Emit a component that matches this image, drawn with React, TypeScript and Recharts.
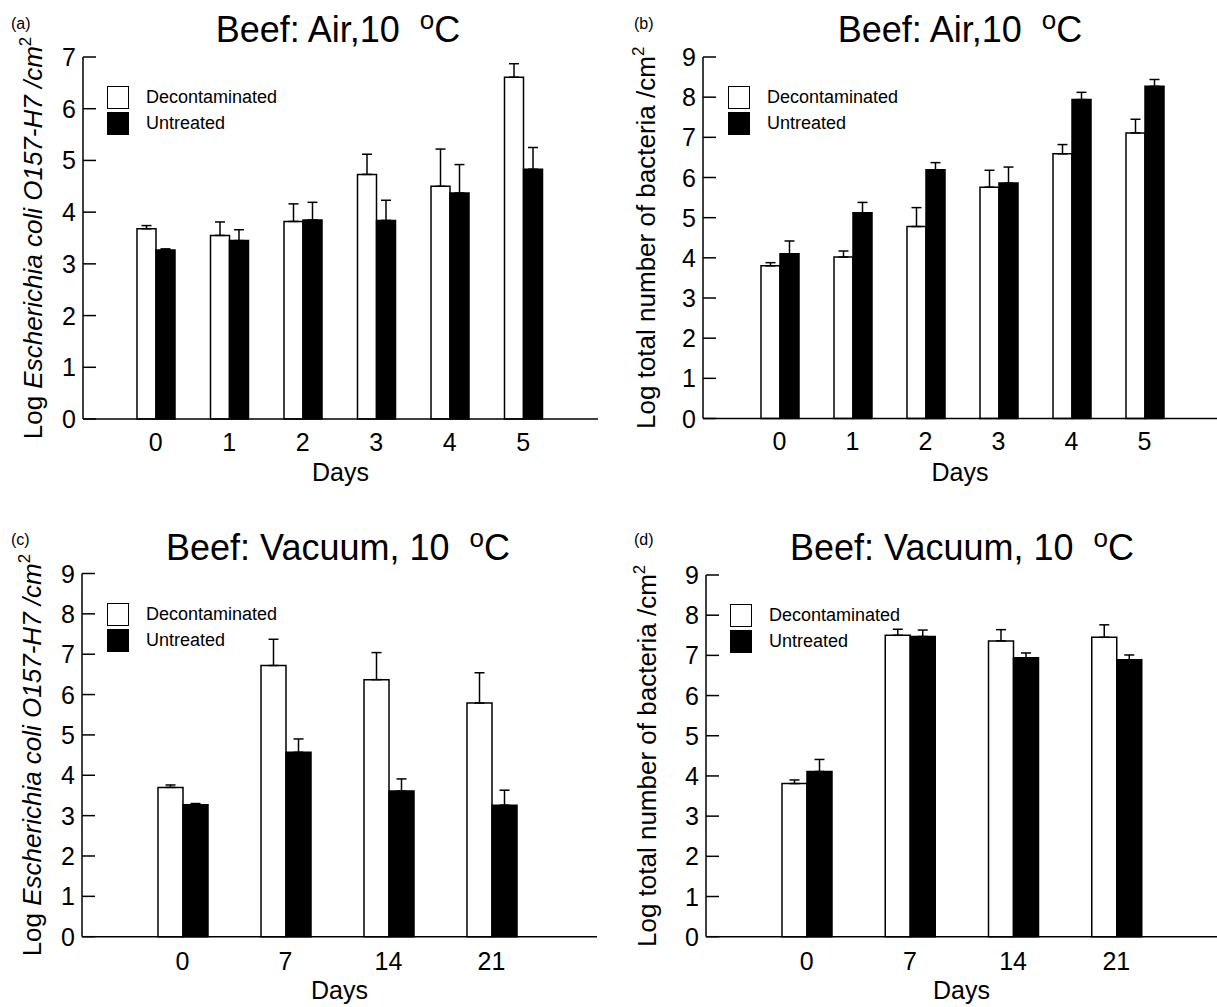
import React from "react";
import { BarChart, Bar, XAxis, YAxis, ErrorBar, Legend } from "recharts";

// days
const airDays = ["0", "1", "2", "3", "4", "5"];
const vacDays = ["0", "7", "14", "21"];

// y ticks
const ticks7 = [0, 1, 2, 3, 4, 5, 6, 7];
const ticks9 = [0, 1, 2, 3, 4, 5, 6, 7, 8, 9];

// (a) air, E. coli
const airEcoliDecon = [3.68, 3.55, 3.82, 4.73, 4.5, 6.61];
const airEcoliDeconErr = [0.06, 0.26, 0.34, 0.39, 0.72, 0.26];
const airEcoliUntr = [3.27, 3.45, 3.85, 3.84, 4.37, 4.83];
const airEcoliUntrErr = [0.02, 0.21, 0.34, 0.39, 0.55, 0.42];

// (b) air, total bacteria
const airTotalDecon = [3.8, 4.02, 4.78, 5.76, 6.59, 7.11];
const airTotalDeconErr = [0.08, 0.15, 0.47, 0.42, 0.23, 0.34];
const airTotalUntr = [4.1, 5.12, 6.19, 5.86, 7.94, 8.27];
const airTotalUntrErr = [0.32, 0.26, 0.18, 0.4, 0.18, 0.17];

// (c) vacuum, E. coli
const vacEcoliDecon = [3.7, 6.72, 6.37, 5.79];
const vacEcoliDeconErr = [0.06, 0.65, 0.67, 0.75];
const vacEcoliUntr = [3.27, 4.57, 3.61, 3.26];
const vacEcoliUntrErr = [0.03, 0.33, 0.3, 0.37];

// (d) vacuum, total bacteria
const vacTotalDecon = [3.81, 7.5, 7.36, 7.45];
const vacTotalDeconErr = [0.09, 0.15, 0.28, 0.31];
const vacTotalUntr = [4.11, 7.47, 6.94, 6.89];
const vacTotalUntrErr = [0.3, 0.16, 0.12, 0.12];

const FONT = '"Liberation Sans", Arial, Helvetica, sans-serif';

const YLabel = ({ x, y, ecoli }: any) => (
  <text
    x={x}
    y={y}
    transform={`rotate(-90 ${x} ${y})`}
    textAnchor="middle"
    fontSize={26}
    fontFamily={FONT}
    fill="#000"
  >
    {ecoli ? (
      <>
        {"Log "}
        <tspan fontStyle="italic">Escherichia coli O157-H7 /cm</tspan>
      </>
    ) : (
      "Log total number of bacteria /cm"
    )}
    <tspan dy={-11} fontSize={17}>
      2
    </tspan>
  </text>
);

const DaysLabel = ({ viewBox }: any) => (
  <text
    x={viewBox.x + viewBox.width / 2}
    y={viewBox.y + 62}
    textAnchor="middle"
    fontSize={25}
    fontFamily={FONT}
    fill="#000"
  >
    Days
  </text>
);

const YTick = ({ x, y, payload }: any) => (
  <g>
    <line x1={x + 7} x2={x + 20} y1={y} y2={y} stroke="#000" strokeWidth={1.5} />
    <text x={x} y={y} dy="0.36em" textAnchor="end" fontSize={25} fontFamily={FONT} fill="#000">
      {payload.value}
    </text>
  </g>
);

const LegendBox = ({ payload }: any) => (
  <div style={{ fontFamily: FONT, fontSize: 18, color: "#000" }}>
    {(payload || []).map((p: any, i: number) => (
      <div key={i} style={{ display: "flex", alignItems: "center", height: 26 }}>
        <div
          style={{
            width: 20,
            height: 21,
            background: p.color,
            border: "1.5px solid #000",
            marginRight: 17,
          }}
        />
        <span>{p.value}</span>
      </div>
    ))}
  </div>
);

type Cfg = {
  tag: string;
  title: string;
  ecoli: boolean;
  days: string[];
  decon: number[];
  deconErr: number[];
  untr: number[];
  untrErr: number[];
  ticks: number[];
  left: number;
  top: number;
  w: number;
  h: number;
  plotLeft: number;
  plotRight: number;
  plotTop: number;
  plotBottom: number;
  padL: number;
  padR: number;
  barSize: number;
  tickMargin: number;
  legendLeft: number;
  legendTop: number;
  titleX: number;
  titleY: number;
  tagX: number;
  tagY: number;
  labelX: number;
  labelY: number;
};

function Panel({ c }: { c: Cfg }) {
  const rows = c.days.map((d, i) => ({
    day: d,
    decon: c.decon[i],
    deconErr: [0, c.deconErr[i]],
    untr: c.untr[i],
    untrErr: [0, c.untrErr[i]],
  }));
  const yMax = c.ticks[c.ticks.length - 1];
  return (
    <div style={{ position: "absolute", left: c.left, top: c.top, width: c.w, height: c.h }}>
      <BarChart
        width={c.w}
        height={c.h}
        data={rows}
        barGap={0}
        barSize={c.barSize}
        margin={{ top: c.plotTop, right: c.w - c.plotRight, left: 0, bottom: 0 }}
      >
        <XAxis
          dataKey="day"
          height={c.h - c.plotBottom}
          padding={{ left: c.padL, right: c.padR }}
          tickLine={false}
          tickSize={0}
          tickMargin={c.tickMargin}
          axisLine={{ stroke: "#000", strokeWidth: 1.5 }}
          tick={{ fill: "#000", fontSize: 25, fontFamily: FONT }}
          label={<DaysLabel />}
        />
        <YAxis
          width={c.plotLeft}
          domain={[0, yMax]}
          ticks={c.ticks}
          interval={0}
          tickLine={false}
          tickSize={0}
          tickMargin={7}
          axisLine={{ stroke: "#000", strokeWidth: 1.5 }}
          tick={<YTick />}
          label={<YLabel x={c.labelX} y={c.labelY} ecoli={c.ecoli} />}
        />
        <Legend
          layout="vertical"
          align="center"
          verticalAlign="middle"
          content={<LegendBox />}
          wrapperStyle={{ position: "absolute", left: c.legendLeft, top: c.legendTop, width: "auto", height: "auto" }}
        />
        <Bar dataKey="decon" name="Decontaminated" fill="#fff" stroke="#000" strokeWidth={1.5} isAnimationActive={false}>
          <ErrorBar dataKey="deconErr" direction="y" width={5} stroke="#000" strokeWidth={1.5} />
        </Bar>
        <Bar dataKey="untr" name="Untreated" fill="#000" stroke="#000" strokeWidth={1.5} isAnimationActive={false}>
          <ErrorBar dataKey="untrErr" direction="y" width={5} stroke="#000" strokeWidth={1.5} />
        </Bar>
      </BarChart>
      <svg
        width={c.w}
        height={c.h}
        style={{ position: "absolute", left: 0, top: 0, pointerEvents: "none" }}
      >
        <text x={c.tagX} y={c.tagY} fontSize={16} fontFamily={FONT} fill="#000">
          {c.tag}
        </text>
        <text x={c.titleX} y={c.titleY} textAnchor="middle" fontSize={36} fontFamily={FONT} fill="#000">
          {c.title + "\u00a0\u00a0"}
          <tspan dy={-13} fontSize={26}>
            o
          </tspan>
          <tspan dy={13}>C</tspan>
        </text>
      </svg>
    </div>
  );
}

const panels: Cfg[] = [
  {
    tag: "(a)", title: "Beef: Air,10", ecoli: true, days: airDays,
    decon: airEcoliDecon, deconErr: airEcoliDeconErr, untr: airEcoliUntr, untrErr: airEcoliUntrErr,
    ticks: ticks7, left: 0, top: 0, w: 607, h: 490,
    plotLeft: 83, plotRight: 598, plotTop: 57, plotBottom: 419, padL: 36, padR: 38, barSize: 19,
    tickMargin: 14, legendLeft: 107, legendTop: 84, titleX: 338, titleY: 42, tagX: 11, tagY: 29,
    labelX: 35, labelY: 250,
  },
  {
    tag: "(b)", title: "Beef: Air,10", ecoli: false, days: airDays,
    decon: airTotalDecon, deconErr: airTotalDeconErr, untr: airTotalUntr, untrErr: airTotalUntrErr,
    ticks: ticks9, left: 607, top: 0, w: 610, h: 490,
    plotLeft: 96, plotRight: 610, plotTop: 57, plotBottom: 418.5, padL: 40, padR: 36, barSize: 19,
    tickMargin: 14, legendLeft: 121, legendTop: 84, titleX: 353, titleY: 42, tagX: 27, tagY: 29,
    labelX: 55, labelY: 240,
  },
  {
    tag: "(c)", title: "Beef: Vacuum, 10", ecoli: true, days: vacDays,
    decon: vacEcoliDecon, deconErr: vacEcoliDeconErr, untr: vacEcoliUntr, untrErr: vacEcoliUntrErr,
    ticks: ticks9, left: 0, top: 520, w: 607, h: 487,
    plotLeft: 82, plotRight: 597, plotTop: 53.5, plotBottom: 416.7, padL: 49, padR: 54, barSize: 25,
    tickMargin: 16, legendLeft: 107, legendTop: 81, titleX: 338, titleY: 40, tagX: 11, tagY: 25,
    labelX: 35, labelY: 250,
  },
  {
    tag: "(d)", title: "Beef: Vacuum, 10", ecoli: false, days: vacDays,
    decon: vacTotalDecon, deconErr: vacTotalDeconErr, untr: vacTotalUntr, untrErr: vacTotalUntrErr,
    ticks: ticks9, left: 607, top: 520, w: 610, h: 487,
    plotLeft: 99, plotRight: 610, plotTop: 55, plotBottom: 416.7, padL: 49, padR: 49, barSize: 25,
    tickMargin: 16, legendLeft: 123, legendTop: 82, titleX: 355, titleY: 40, tagX: 27, tagY: 25,
    labelX: 58, labelY: 239,
  },
];

export default function App() {
  return (
    <div style={{ position: "absolute", left: 0, top: 0, width: 1217, height: 1007, background: "#fff" }}>
      {panels.map((p) => (
        <Panel key={p.tag} c={p} />
      ))}
    </div>
  );
}
